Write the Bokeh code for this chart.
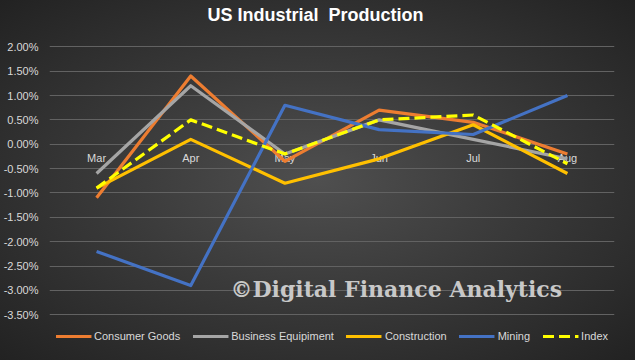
from bokeh.plotting import figure
from bokeh.models import (FactorRange, Range1d, FixedTicker, PrintfTickFormatter,
                          Legend, LegendItem, Label, GlobalInlineStyleSheet)
from bokeh.embed import file_html
from bokeh.resources import INLINE

months = ["Mar", "Apr", "May", "Jun", "Jul", "Aug"]
consumer_goods = [-1.1, 1.4, -0.35, 0.7, 0.45, -0.2]
business_equipment = [-0.6, 1.2, -0.2, 0.5, 0.1, -0.3]
construction = [-0.9, 0.1, -0.8, -0.3, 0.4, -0.6]
mining = [-2.2, -2.9, 0.8, 0.3, 0.2, 1.0]
index_vals = [-0.9, 0.5, -0.2, 0.5, 0.6, -0.4]
y_ticks = [-3.5, -3.0, -2.5, -2.0, -1.5, -1.0, -0.5, 0.0, 0.5, 1.0, 1.5, 2.0]
axis_cross = 0.0  # category labels sit on the 0.00% line
title_text = "US Industrial\u00a0 Production"
watermark_text = "\u00a9Digital Finance Analytics"

series = [
    ("Consumer Goods", consumer_goods, "#ED7D31", "solid"),
    ("Business Equipiment", business_equipment, "#A5A5A5", "solid"),
    ("Construction", construction, "#FFC000", "solid"),
    ("Mining", mining, "#4472C4", "solid"),
    ("Index", index_vals, "#FFFF00", "11 5"),
]

TXT = "#D9D9D9"

p = figure(width=619, height=344, x_range=FactorRange(*months),
           y_range=Range1d(-4.11, 2.95), output_backend="svg",
           toolbar_location=None,
           min_border_left=44, min_border_right=5, min_border_bottom=0,
           min_border_top=0)

p.background_fill_alpha = 0
p.border_fill_alpha = 0
p.outline_line_color = None
p.stylesheets = [GlobalInlineStyleSheet(css=(
    "html{height:100%;background:radial-gradient(ellipse farthest-corner at 50% 50%,"
    " #4f4f4f 0%, #3a3a3a 45%, #222222 100%) no-repeat;background-color:#222222;}"
    "body{background:transparent;}"))]

p.yaxis.ticker = FixedTicker(ticks=y_ticks)
p.yaxis.formatter = PrintfTickFormatter(format="%.2f%%")
p.yaxis.axis_line_color = None
p.yaxis.major_tick_line_color = None
p.yaxis.minor_tick_line_color = None
p.yaxis.major_label_text_color = TXT
p.yaxis.major_label_text_font_size = "11px"

p.xaxis.visible = False
p.xgrid.grid_line_color = None
p.ygrid.grid_line_color = "#626262"

p.text(x=months, y=[axis_cross] * len(months), text=months, text_color=TXT,
       text_font_size="11px", text_align="center", text_baseline="top", y_offset=8)

items = []
for name, vals, color, dash in series:
    r = p.line(months, vals, line_color=color, line_width=3.2, line_dash=dash,
               line_join="round")
    items.append(LegendItem(label=name, renderers=[r]))

title_label = Label(x=266, y=2.65, x_units="screen", y_units="data",
                    text=title_text, text_color="#FFFFFF", text_font_size="18px",
                    text_font_style="bold", text_align="center",
                    text_baseline="middle")
p.add_layout(title_label)

wm = Label(x=181, y=-2.97, x_units="screen", y_units="data",
           text=watermark_text, text_font="DejaVu Serif",
           text_font_style="bold", text_font_size="22px", text_color="#C8C8C8",
           text_baseline="alphabetic")
p.add_layout(wm)

legend = Legend(items=items, orientation="horizontal", location="bottom_center",
                background_fill_alpha=0, border_line_color=None,
                label_text_color=TXT, label_text_font_size="11px",
                glyph_width=36, glyph_height=12, label_standoff=3, spacing=12,
                padding=0, margin=2)
p.add_layout(legend)

open("out.html", "w").write(file_html(p, INLINE))
